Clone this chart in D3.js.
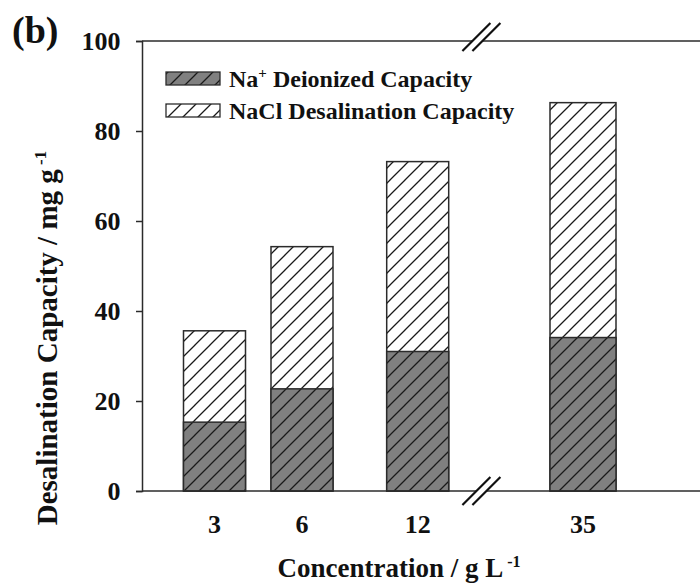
<!DOCTYPE html>
<html>
<head>
<meta charset="utf-8">
<script src="https://cdn.jsdelivr.net/npm/d3@7"></script>
<style>
  html, body { margin: 0; padding: 0; background: #fff; }
  svg { display: block; font-family: "Liberation Serif", "Times New Roman", serif; font-weight: bold; }
</style>
</head>
<body>
<svg id="chart" width="700" height="586"></svg>
<script>
// Concentrations (g/L) on the broken x axis
const concentrations = ["3", "6", "12", "35"];
// Na+ deionized capacity (mg/g)
const naDeionized = [15.3, 22.7, 31.0, 34.1];
// NaCl desalination capacity (mg/g)
const naclDesalination = [35.6, 54.3, 73.2, 86.3];
// y axis tick labels
const yTicks = [0, 20, 40, 60, 80, 100];
// where the x axis is broken (g/L)
const axisBreak = 21;

const svg = d3.select("#chart");
const plot = { left: 142, right: 720, top: 41, bottom: 491 };

const y = d3.scaleLinear().domain([0, 100]).range([plot.bottom, plot.top]);
// piecewise scale: the axis is not linear in concentration
const x = d3.scaleLinear()
  .domain(concentrations.map(Number))
  .range([214.5, 302, 417.7, 583]);

const barW = c => (c > axisBreak ? 66 : 62);
const rows = concentrations.map((c, i) => ({
  label: c, c: +c, na: naDeionized[i], nacl: naclDesalination[i]
}));

// hatch patterns
const defs = svg.append("defs");
function hatch(id, bg) {
  const p = defs.append("pattern")
    .attr("id", id).attr("patternUnits", "userSpaceOnUse")
    .attr("width", 15).attr("height", 15);
  p.append("rect").attr("width", 15).attr("height", 15).attr("fill", bg);
  p.append("path")
    .attr("d", "M-4,19 L19,-4 M-4,4 L4,-4 M11,19 L19,11")
    .attr("stroke", "#1a1a1a").attr("stroke-width", 1.3).attr("fill", "none");
}
hatch("hatchWhite", "#ffffff");
hatch("hatchGray", "#808080");

const stroke = "#2b2b2b";
const ink = "#111";

// bars: full NaCl bar, Na+ bar in front
const bars = svg.append("g");
bars.selectAll("rect.nacl").data(rows).join("rect")
  .attr("class", "nacl")
  .attr("x", d => x(d.c) - barW(d.c) / 2)
  .attr("width", d => barW(d.c))
  .attr("y", d => y(d.nacl))
  .attr("height", d => y(0) - y(d.nacl))
  .attr("fill", "url(#hatchWhite)")
  .attr("stroke", stroke).attr("stroke-width", 1.5);
bars.selectAll("rect.na").data(rows).join("rect")
  .attr("class", "na")
  .attr("x", d => x(d.c) - barW(d.c) / 2)
  .attr("width", d => barW(d.c))
  .attr("y", d => y(d.na))
  .attr("height", d => y(0) - y(d.na))
  .attr("fill", "url(#hatchGray)")
  .attr("stroke", stroke).attr("stroke-width", 1.5);

// frame: bottom and top lines
svg.append("line")
  .attr("x1", plot.left).attr("x2", plot.right)
  .attr("y1", plot.bottom).attr("y2", plot.bottom)
  .attr("stroke", stroke).attr("stroke-width", 1.5);
svg.append("line")
  .attr("x1", plot.left).attr("x2", plot.right)
  .attr("y1", plot.top).attr("y2", plot.top)
  .attr("stroke", stroke).attr("stroke-width", 1.5);

// y axis
const yAxis = svg.append("g")
  .attr("transform", `translate(${plot.left},0)`)
  .call(d3.axisLeft(y).tickValues(yTicks).tickSize(6).tickPadding(15.5).tickFormat(d3.format("d")));
yAxis.select(".domain").attr("stroke", stroke).attr("stroke-width", 1.5);
yAxis.selectAll(".tick line").attr("stroke", stroke).attr("stroke-width", 1.5);
yAxis.selectAll(".tick text")
  .attr("font-size", 26).attr("font-family", "Liberation Serif").attr("font-weight", "bold")
  .attr("fill", ink).attr("dy", "0.34em");

// x tick labels
svg.append("g").selectAll("text").data(rows).join("text")
  .attr("x", d => x(d.c)).attr("y", 533)
  .attr("text-anchor", "middle").attr("font-size", 26).attr("fill", ink)
  .text(d => d.label);

// axis break marks
function breakMark(cy) {
  const bx = x(axisBreak);
  const g = svg.append("g").attr("transform", `translate(${bx},${cy})`);
  g.append("path").attr("d", "M-20,14 L8,-14 L18,-14 L-10,14 Z").attr("fill", "#fff");
  g.append("line").attr("x1", -20).attr("y1", 14).attr("x2", 8).attr("y2", -14)
    .attr("stroke", ink).attr("stroke-width", 2.2);
  g.append("line").attr("x1", -10).attr("y1", 14).attr("x2", 18).attr("y2", -14)
    .attr("stroke", ink).attr("stroke-width", 2.2);
}
breakMark(plot.bottom);
breakMark(plot.top - 4);

// legend
const legend = [
  { fill: "url(#hatchGray)", main: "Na", sup: "+", rest: " Deionized Capacity", y: 72 },
  { fill: "url(#hatchWhite)", main: "NaCl Desalination Capacity", sup: "", rest: "", y: 104 }
];
legend.forEach(l => {
  svg.append("rect").attr("x", 166).attr("y", l.y).attr("width", 54).attr("height", 13)
    .attr("fill", l.fill).attr("stroke", stroke).attr("stroke-width", 1.3);
  const t = svg.append("text").attr("x", 229).attr("y", l.y + 14.5)
    .attr("font-size", 24).attr("fill", ink);
  t.append("tspan").text(l.main);
  if (l.sup) t.append("tspan").attr("font-size", 15).attr("dy", -9).text(l.sup);
  if (l.rest) t.append("tspan").attr("dy", l.sup ? 9 : 0).text(l.rest);
});

// panel label
svg.append("text").attr("x", 12).attr("y", 43)
  .attr("font-size", 38).attr("fill", ink).text("(b)");

// x axis title
const xt = svg.append("text").attr("x", 399).attr("y", 577)
  .attr("text-anchor", "middle").attr("font-size", 27).attr("fill", ink);
xt.append("tspan").text("Concentration / g L");
xt.append("tspan").attr("font-size", 16).attr("dy", -10).text(" -1");

// y axis title
const yt = svg.append("text")
  .attr("transform", "translate(57,338) rotate(-90)")
  .attr("text-anchor", "middle").attr("font-size", 29).attr("fill", ink);
yt.append("tspan").text("Desalination Capacity / mg g");
yt.append("tspan").attr("font-size", 17).attr("dy", -11).text(" -1");
</script>
</body>
</html>
